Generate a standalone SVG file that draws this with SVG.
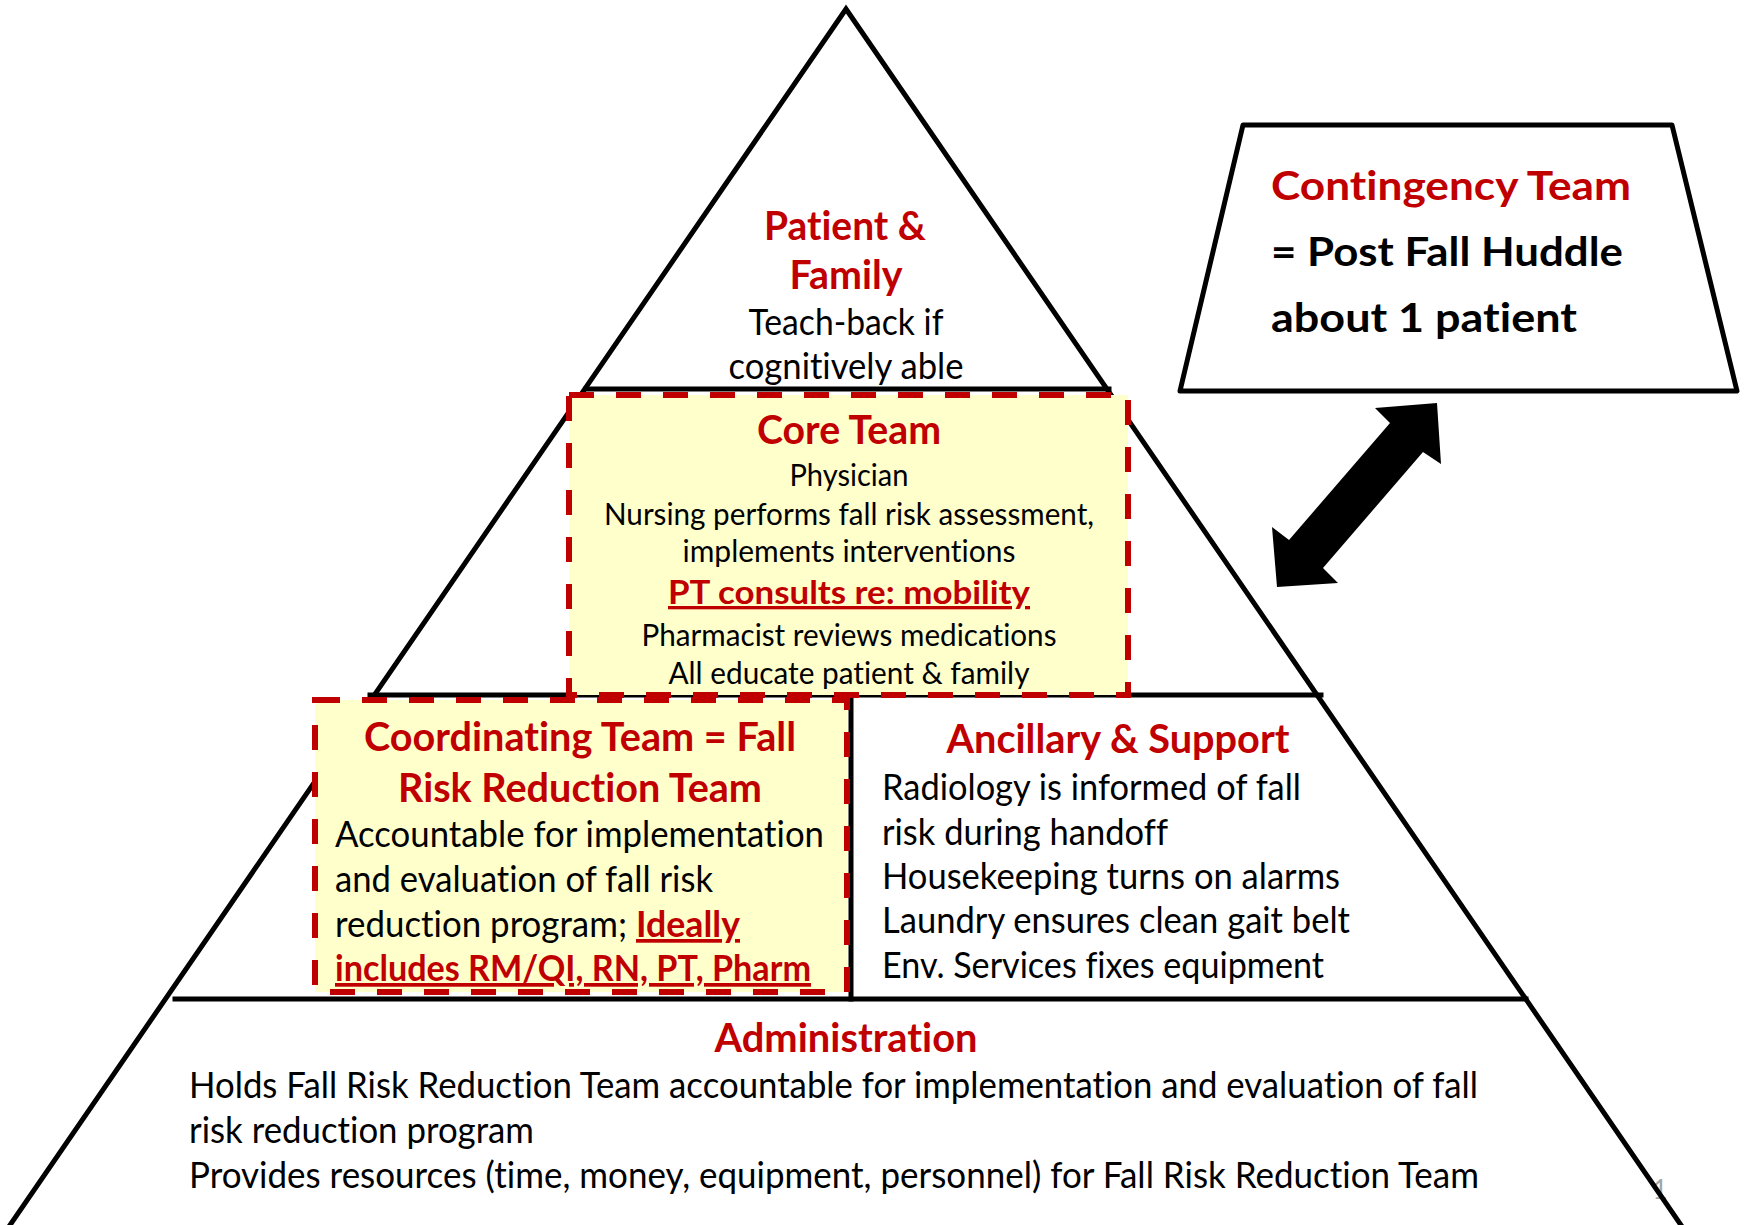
<svg xmlns="http://www.w3.org/2000/svg" width="1744" height="1225" viewBox="0 0 1744 1225">
  <style>
    text { font-variant-ligatures: none; font-feature-settings: "liga" 0, "clig" 0; }
    .edge { fill: none; stroke: #000; stroke-width: 5; stroke-linecap: square; }
    .dash { fill: #FFFFCC; stroke: #C00000; stroke-width: 6; stroke-dasharray: 25 22; }
    .t { font-family: Lato, "Liberation Sans", sans-serif; fill: #000; }
    .h { font-family: Lato, "Liberation Sans", sans-serif; font-weight: 700; fill: #C00000; font-size: 40px; }
    .hb { font-family: Lato, "Liberation Sans", sans-serif; font-weight: 700; fill: #000; font-size: 40px; }
    .b37 { font-size: 37px; }
    .b31 { font-size: 31px; }
    .u { text-decoration: underline; }
    .mid { text-anchor: middle; }
  </style>

  <!-- page number sits under the pyramid edge -->
  <text class="t" x="1660" y="1199" font-size="26" text-anchor="middle" style="fill:#A6A6A6">1</text>

  <!-- pyramid outline and tier lines -->
  <g id="pyramid">
    <polyline class="edge" points="8,1228 846,9 1683,1228" stroke-linejoin="miter"/>
    <line class="edge" x1="586" y1="389" x2="1109" y2="389"/>
    <line class="edge" x1="370" y1="695" x2="1321" y2="695"/>
    <line class="edge" x1="175" y1="999" x2="1526" y2="999"/>
    <line class="edge" x1="851" y1="695" x2="851" y2="999"/>
  </g>

  <g id="patient-family">
    <text class="h mid" x="845" y="240" textLength="162" lengthAdjust="spacingAndGlyphs">Patient &amp;</text>
    <text class="h mid" x="846" y="289" textLength="113" lengthAdjust="spacingAndGlyphs">Family</text>
    <text class="t b37 mid" x="846" y="335" textLength="195" lengthAdjust="spacingAndGlyphs">Teach-back if</text>
    <text class="t b37 mid" x="846" y="379" textLength="235" lengthAdjust="spacingAndGlyphs">cognitively able</text>
  </g>

  <g id="core-team">
    <rect class="dash" x="569" y="395" width="559" height="300"/>
    <text class="h mid" x="849" y="444" textLength="184" lengthAdjust="spacingAndGlyphs">Core Team</text>
    <text class="t b31 mid" x="849" y="486" textLength="119" lengthAdjust="spacingAndGlyphs">Physician</text>
    <text class="t b31 mid" x="849" y="525" textLength="490" lengthAdjust="spacingAndGlyphs">Nursing performs fall risk assessment,</text>
    <text class="t b31 mid" x="849" y="562" textLength="333" lengthAdjust="spacingAndGlyphs">implements interventions</text>
    <text class="h u mid" x="849" y="604" style="font-size:33px" textLength="362" lengthAdjust="spacingAndGlyphs">PT consults re: mobility</text>
    <text class="t b31 mid" x="849" y="646" textLength="415" lengthAdjust="spacingAndGlyphs">Pharmacist reviews medications</text>
    <text class="t b31 mid" x="849" y="684" textLength="361" lengthAdjust="spacingAndGlyphs">All educate patient &amp; family</text>
  </g>

  <g id="coordinating-team">
    <rect class="dash" x="315" y="700" width="532" height="292"/>
    <text class="h mid" x="580" y="751" textLength="432" lengthAdjust="spacingAndGlyphs">Coordinating Team = Fall</text>
    <text class="h mid" x="580" y="802" textLength="364" lengthAdjust="spacingAndGlyphs">Risk Reduction Team</text>
    <text class="t b37" x="335" y="847" textLength="489" lengthAdjust="spacingAndGlyphs">Accountable for implementation</text>
    <text class="t b37" x="335" y="892" textLength="378" lengthAdjust="spacingAndGlyphs">and evaluation of fall risk</text>
    <text class="t b37" x="335" y="937" textLength="292" lengthAdjust="spacingAndGlyphs">reduction program;</text>
    <text class="h u" x="636" y="937" style="font-size:37px" textLength="104" lengthAdjust="spacingAndGlyphs">Ideally</text>
    <text class="h u" x="335" y="981" style="font-size:37px" textLength="476" lengthAdjust="spacingAndGlyphs">includes RM/QI, RN, PT, Pharm</text>
  </g>

  <g id="ancillary-support">
    <text class="h mid" x="1118" y="753" textLength="343" lengthAdjust="spacingAndGlyphs">Ancillary &amp; Support</text>
    <text class="t b37" x="882" y="800" textLength="419" lengthAdjust="spacingAndGlyphs">Radiology is informed of fall</text>
    <text class="t b37" x="882" y="845" textLength="286" lengthAdjust="spacingAndGlyphs">risk during handoff</text>
    <text class="t b37" x="882" y="889" textLength="458" lengthAdjust="spacingAndGlyphs">Housekeeping turns on alarms</text>
    <text class="t b37" x="882" y="933" textLength="468" lengthAdjust="spacingAndGlyphs">Laundry ensures clean gait belt</text>
    <text class="t b37" x="882" y="978" textLength="442" lengthAdjust="spacingAndGlyphs">Env. Services fixes equipment</text>
  </g>

  <g id="administration">
    <text class="h mid" x="846" y="1052" textLength="263" lengthAdjust="spacingAndGlyphs">Administration</text>
    <text class="t b37" x="189" y="1098" textLength="1289" lengthAdjust="spacingAndGlyphs">Holds Fall Risk Reduction Team accountable for implementation and evaluation of fall</text>
    <text class="t b37" x="189" y="1143" textLength="345" lengthAdjust="spacingAndGlyphs">risk reduction program</text>
    <text class="t b37" x="189" y="1188" textLength="1290" lengthAdjust="spacingAndGlyphs">Provides resources (time, money, equipment, personnel) for Fall Risk Reduction Team</text>
  </g>

  <g id="contingency-team">
    <polygon points="1243,125 1672,125 1737,391 1180,391" fill="#fff" stroke="#000" stroke-width="5" stroke-linejoin="round"/>
    <text class="h" x="1271" y="200" textLength="360" lengthAdjust="spacingAndGlyphs">Contingency Team</text>
    <text class="hb" x="1271" y="266" textLength="352" lengthAdjust="spacingAndGlyphs">= Post Fall Huddle</text>
    <text class="hb" x="1271" y="332" textLength="306" lengthAdjust="spacingAndGlyphs">about 1 patient</text>
  </g>

  <!-- two-way link between the huddle and the pyramid -->
  <g id="connectors">
    <polygon points="1390,423 1375,408 1437,403 1441,464 1423,452 1323,568 1338,583 1277,587 1272,527 1289,540" fill="#000"/>
  </g>
</svg>
